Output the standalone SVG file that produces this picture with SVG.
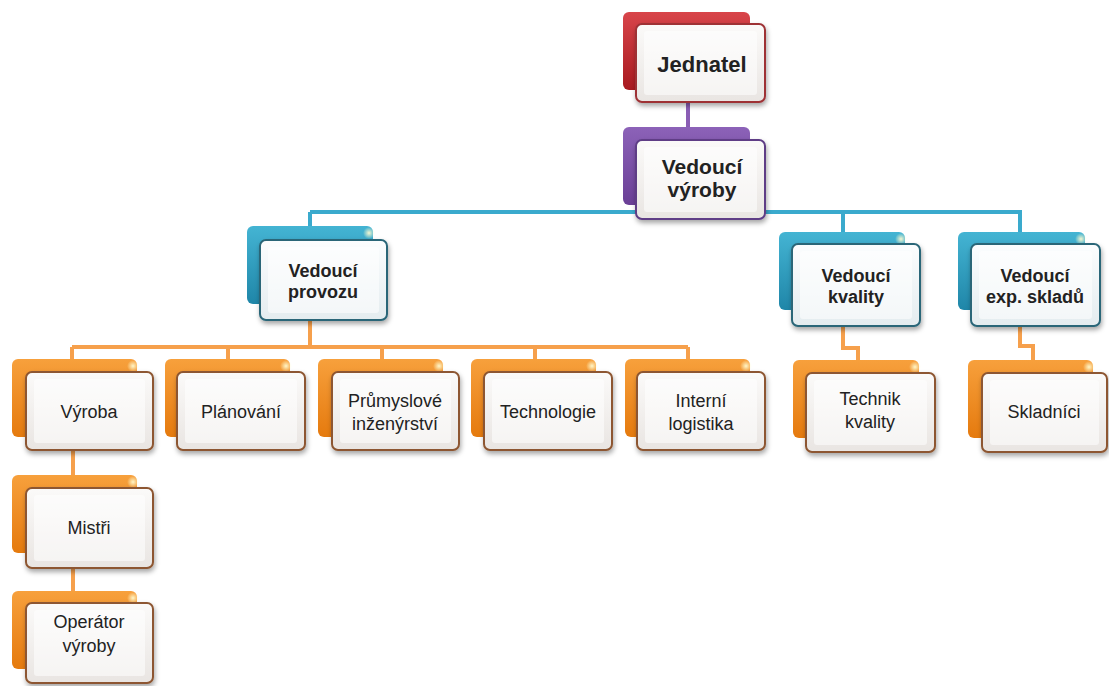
<svg xmlns="http://www.w3.org/2000/svg" width="1109" height="686" viewBox="0 0 1109 686">
  <defs>
    <linearGradient id="gRed" x1="0" y1="0" x2="0" y2="1">
      <stop offset="0" stop-color="#d8454a"/>
      <stop offset="1" stop-color="#a8191f"/>
    </linearGradient>
    <linearGradient id="gPurple" x1="0" y1="0" x2="0" y2="1">
      <stop offset="0" stop-color="#8c62b8"/>
      <stop offset="1" stop-color="#6a3f96"/>
    </linearGradient>
    <linearGradient id="gBlue" x1="0" y1="0" x2="0" y2="1">
      <stop offset="0" stop-color="#44b4d3"/>
      <stop offset="1" stop-color="#1f86a8"/>
    </linearGradient>
    <linearGradient id="gOrange" x1="0" y1="0" x2="0" y2="1">
      <stop offset="0" stop-color="#f7a03c"/>
      <stop offset="1" stop-color="#e57a0e"/>
    </linearGradient>
    <linearGradient id="gFace" x1="0" y1="0" x2="0" y2="1">
      <stop offset="0" stop-color="#fbfaf9"/>
      <stop offset="1" stop-color="#e9e5e2"/>
    </linearGradient>
    <linearGradient id="gFaceCool" x1="0" y1="0" x2="0" y2="1">
      <stop offset="0" stop-color="#fbfdfe"/>
      <stop offset="1" stop-color="#e4ecef"/>
    </linearGradient>
    <radialGradient id="gGlint" cx="0.5" cy="0.5" r="0.5">
      <stop offset="0" stop-color="#fffbd0" stop-opacity="0.95"/>
      <stop offset="1" stop-color="#fffbd0" stop-opacity="0"/>
    </radialGradient>
    <filter id="shadow" x="-20%" y="-20%" width="140%" height="150%">
      <feDropShadow dx="1" dy="3" stdDeviation="2.5" flood-color="#000" flood-opacity="0.35"/>
    </filter>
  </defs>
  <style>
    .back { stroke: none; }
    .red { fill: url(#gRed); }
    .purple { fill: url(#gPurple); }
    .blue { fill: url(#gBlue); }
    .orange { fill: url(#gOrange); }
    .face { stroke-width: 2; filter: url(#shadow); }
    .f-red { fill: url(#gFace); stroke: #9e3236; }
    .f-purple { fill: url(#gFace); stroke: #5f3e86; }
    .f-blue { fill: url(#gFaceCool); stroke: #2a6678; }
    .f-orange { fill: url(#gFace); stroke: #8d5630; }
    .inner { fill: #ffffff; opacity: 0.55; }
    .glint { fill: url(#gGlint); }
    .lbl { font-family: "Liberation Sans", Arial, sans-serif; fill: #222; text-anchor: middle; }
    .b22 { font-size: 22px; font-weight: bold; }
    .b21 { font-size: 21px; font-weight: bold; }
    .b18 { font-size: 18px; font-weight: bold; }
    .r18 { font-size: 18px; }
    .c-purple { stroke: #8a5db4; }
    .c-blue { stroke: #3aaacd; }
    .c-orange { stroke: #f6a04c; }
    .conn path { fill: none; stroke-width: 4; }
  </style>

  <!-- connectors -->
  <g id="connectors" class="conn">
    <path class="c-purple" d="M688,102 V140"/>
    <path class="c-blue" d="M310,212 H1022"/>
    <path class="c-blue" d="M310,212 V240"/>
    <path class="c-blue" d="M843,212 V244"/>
    <path class="c-blue" d="M1020,212 V244"/>
    <path class="c-orange" d="M310,320 V347"/>
    <path class="c-orange" d="M72,347 H688"/>
    <path class="c-orange" d="M72,347 V362"/>
    <path class="c-orange" d="M228,347 V362"/>
    <path class="c-orange" d="M382,347 V362"/>
    <path class="c-orange" d="M535,347 V362"/>
    <path class="c-orange" d="M688,347 V362"/>
    <path class="c-orange" d="M73,450 V478"/>
    <path class="c-orange" d="M73,568 V594"/>
    <path class="c-orange" d="M843,326 V348 H858 V363"/>
    <path class="c-orange" d="M1020,326 V346 H1033 V363"/>
  </g>

  <!-- level 1 -->
  <g id="jednatel">
    <rect class="back red" x="623" y="12" width="127" height="78" rx="6"/>
    <rect class="face f-red" x="636" y="24" width="129" height="78" rx="6"/>
    <rect class="inner" x="644" y="31" width="113" height="64" rx="3"/>
    <text class="lbl b22" x="702" y="72">Jednatel</text>
  </g>

  <!-- level 2 -->
  <g id="vedouci-vyroby">
    <rect class="back purple" x="623" y="127" width="127" height="78" rx="6"/>
    <rect class="face f-purple" x="636" y="140" width="129" height="79" rx="6"/>
    <rect class="inner" x="644" y="147" width="113" height="65" rx="3"/>
    <text class="lbl b21" x="702" y="174">Vedoucí</text>
    <text class="lbl b21" x="702" y="197">výroby</text>
  </g>

  <!-- level 3 -->
  <g id="vedouci-provozu">
    <rect class="back blue" x="247" y="226" width="126" height="78" rx="6"/>
    <circle class="glint" cx="369" cy="233" r="6"/>
    <rect class="face f-blue" x="260" y="240" width="127" height="80" rx="6"/>
    <rect class="inner" x="268" y="247" width="111" height="66" rx="3"/>
    <text class="lbl b18" x="323" y="277">Vedoucí</text>
    <text class="lbl b18" x="323" y="298">provozu</text>
  </g>

  <g id="vedouci-kvality">
    <rect class="back blue" x="779" y="232" width="126" height="78" rx="6"/>
    <circle class="glint" cx="901" cy="239" r="6"/>
    <rect class="face f-blue" x="792" y="244" width="128" height="82" rx="6"/>
    <rect class="inner" x="800" y="251" width="112" height="68" rx="3"/>
    <text class="lbl b18" x="856" y="282">Vedoucí</text>
    <text class="lbl b18" x="856" y="303">kvality</text>
  </g>

  <g id="vedouci-exp-skladu">
    <rect class="back blue" x="958" y="232" width="127" height="78" rx="6"/>
    <circle class="glint" cx="1081" cy="239" r="6"/>
    <rect class="face f-blue" x="971" y="244" width="129" height="82" rx="6"/>
    <rect class="inner" x="979" y="251" width="113" height="68" rx="3"/>
    <text class="lbl b18" x="1035" y="282">Vedoucí</text>
    <text class="lbl b18" x="1035" y="303">exp. skladů</text>
  </g>

  <!-- level 4 -->
  <g id="vyroba">
    <rect class="back orange" x="12" y="359" width="125" height="78" rx="6"/>
    <circle class="glint" cx="133" cy="366" r="6"/>
    <rect class="face f-orange" x="26" y="372" width="127" height="78" rx="6"/>
    <rect class="inner" x="34" y="379" width="111" height="64" rx="3"/>
    <text class="lbl r18" x="89" y="418">Výroba</text>
  </g>

  <g id="planovani">
    <rect class="back orange" x="165" y="359" width="125" height="78" rx="6"/>
    <circle class="glint" cx="286" cy="366" r="6"/>
    <rect class="face f-orange" x="177" y="372" width="128" height="78" rx="6"/>
    <rect class="inner" x="185" y="379" width="112" height="64" rx="3"/>
    <text class="lbl r18" x="241" y="418">Plánování</text>
  </g>

  <g id="prumyslove-inzenyrstvi">
    <rect class="back orange" x="318" y="359" width="125" height="78" rx="6"/>
    <circle class="glint" cx="439" cy="366" r="6"/>
    <rect class="face f-orange" x="332" y="372" width="127" height="78" rx="6"/>
    <rect class="inner" x="340" y="379" width="111" height="64" rx="3"/>
    <text class="lbl r18" x="395" y="407">Průmyslové</text>
    <text class="lbl r18" x="395" y="430">inženýrství</text>
  </g>

  <g id="technologie">
    <rect class="back orange" x="471" y="359" width="125" height="78" rx="6"/>
    <circle class="glint" cx="592" cy="366" r="6"/>
    <rect class="face f-orange" x="484" y="372" width="128" height="78" rx="6"/>
    <rect class="inner" x="492" y="379" width="112" height="64" rx="3"/>
    <text class="lbl r18" x="548" y="418">Technologie</text>
  </g>

  <g id="interni-logistika">
    <rect class="back orange" x="625" y="359" width="125" height="78" rx="6"/>
    <circle class="glint" cx="746" cy="366" r="6"/>
    <rect class="face f-orange" x="637" y="372" width="128" height="78" rx="6"/>
    <rect class="inner" x="645" y="379" width="112" height="64" rx="3"/>
    <text class="lbl r18" x="701" y="407">Interní</text>
    <text class="lbl r18" x="701" y="430">logistika</text>
  </g>

  <g id="technik-kvality">
    <rect class="back orange" x="793" y="360" width="126" height="78" rx="6"/>
    <circle class="glint" cx="915" cy="367" r="6"/>
    <rect class="face f-orange" x="806" y="373" width="129" height="79" rx="6"/>
    <rect class="inner" x="814" y="380" width="113" height="65" rx="3"/>
    <text class="lbl r18" x="870" y="405">Technik</text>
    <text class="lbl r18" x="870" y="428">kvality</text>
  </g>

  <g id="skladnici">
    <rect class="back orange" x="968" y="360" width="125" height="78" rx="6"/>
    <circle class="glint" cx="1089" cy="367" r="6"/>
    <rect class="face f-orange" x="982" y="373" width="125" height="79" rx="6"/>
    <rect class="inner" x="990" y="380" width="109" height="65" rx="3"/>
    <text class="lbl r18" x="1044" y="418">Skladníci</text>
  </g>

  <!-- level 5 -->
  <g id="mistri">
    <rect class="back orange" x="12" y="475" width="125" height="78" rx="6"/>
    <circle class="glint" cx="133" cy="482" r="6"/>
    <rect class="face f-orange" x="26" y="488" width="127" height="80" rx="6"/>
    <rect class="inner" x="34" y="495" width="111" height="66" rx="3"/>
    <text class="lbl r18" x="89" y="534">Mistři</text>
  </g>

  <!-- level 6 -->
  <g id="operator-vyroby">
    <rect class="back orange" x="12" y="591" width="125" height="78" rx="6"/>
    <circle class="glint" cx="133" cy="598" r="6"/>
    <rect class="face f-orange" x="26" y="603" width="127" height="80" rx="6"/>
    <rect class="inner" x="34" y="610" width="111" height="66" rx="3"/>
    <text class="lbl r18" x="89" y="628">Operátor</text>
    <text class="lbl r18" x="89" y="652">výroby</text>
  </g>
</svg>
